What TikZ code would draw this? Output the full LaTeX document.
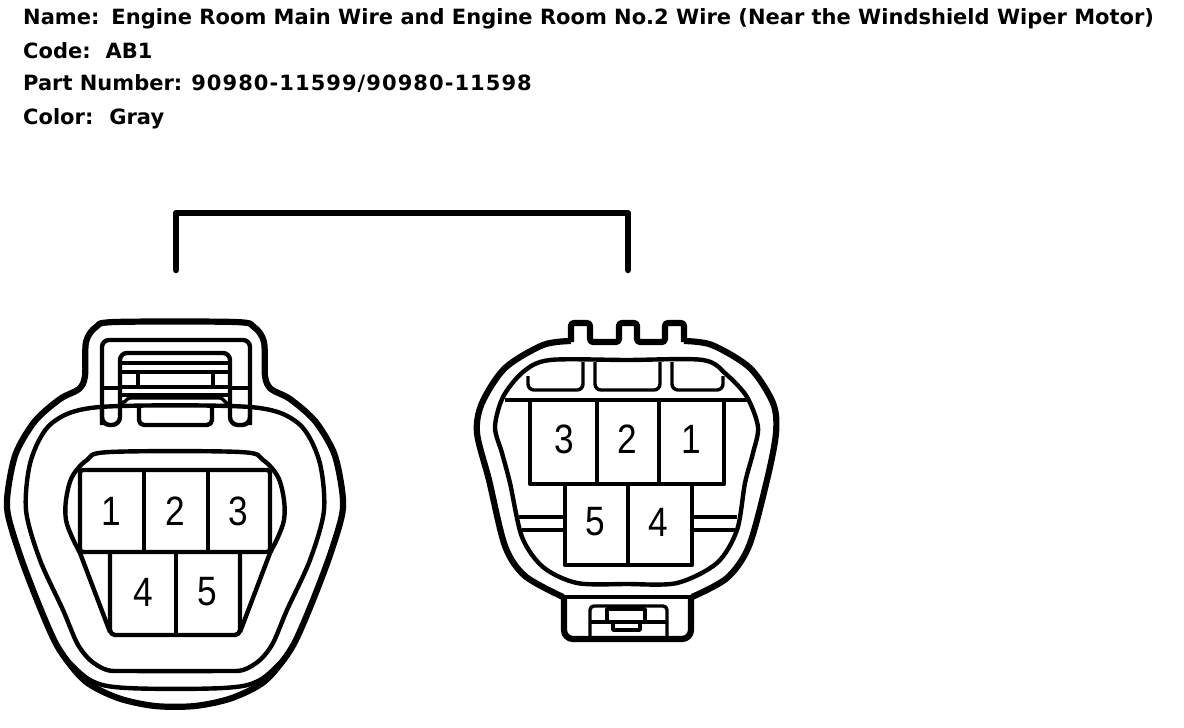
\documentclass[tikz,border=0pt]{standalone}
\usepackage{fontspec}
\setmainfont{DejaVu Sans}
\newfontfamily\digitfont{Liberation Sans}
\tikzset{
  heavy/.style={line width=6.2pt,line join=round},
  med/.style={line width=4.4pt,line join=round},
  thin/.style={line width=3.4pt,line join=round},
  caption/.style={anchor=base west,inner sep=0pt,font=\bfseries\fontsize{21}{24}\selectfont},
  pin/.style={inner sep=0pt,xscale=0.86,font=\digitfont\fontsize{41}{41}\selectfont},
}
\begin{document}
\begin{tikzpicture}[x=1pt,y=-1pt]
\useasboundingbox (0,0) rectangle (1184,728);
\fill[white] (0,0) rectangle (1184,728);
% captions
\node[caption] (t1) at (23,24) {Name:\hspace{12pt}Engine Room Main Wire and Engine Room No.2 Wire (Near the Windshield Wiper Motor)};
\node[caption] (t2) at (23,58) {Code:\hspace{15pt}AB1};
\node[caption] (t3) at (23,90) {Part Number:\hspace{9pt}{\addfontfeature{LetterSpace=5}90980-11599/90980-11598}};
\node[caption] (t4) at (23,124) {Color:\hspace{16pt}Gray};
% bracket
\coordinate (bl) at (176,270);
\coordinate (br) at (628,270);
\draw[line width=6.5pt,line cap=round,line join=round] (bl) |- (402,213) -| (br);
% ---------- left connector
\draw[heavy] plot[smooth cycle,tension=0.5] coordinates {(115,322)(96,327)(86,342)(85,376)(79,389)(60,399)(35,421)(16,453)(8,490)(8,515)(21,558)(41,610)(59,649)(85,681)(118,698)(155,706)(195,706)(232,698)(265,681)(291,649)(309,610)(329,558)(342,515)(342,490)(334,453)(315,421)(290,399)(271,389)(265,376)(264,342)(254,327)(235,322)};
\draw[med] plot[smooth,tension=0.55] coordinates {(62,654)(90,680)(127,688)(223,688)(260,680)(288,654)};
\draw[med] plot[smooth cycle,tension=0.5] coordinates {(100,407)(52,423)(31,460)(26,510)(40,560)(63,610)(77,643)(90,660)(107,670)(130,671)(220,671)(243,670)(260,660)(273,643)(287,610)(310,560)(324,510)(319,460)(298,423)(250,407)};
\draw[med] plot[smooth,tension=0.55] coordinates {(80,553)(72,537)(66,520)(66,500)(72,477)(87,460)(110,452)(240,452)(263,460)(278,477)(284,500)(284,520)(278,537)(270,553)};
\draw[med] (80,553) -- (110,632);
\draw[med] (270,553) -- (240,632);
\draw[med,rounded corners=3pt] (80,470) rectangle (270,552);
\draw[med] (144,470) -- (144,552) (208,470) -- (208,552);
\draw[med,rounded corners=5pt] (110,552) -- (110,635) -- (240,635) -- (240,552);
\draw[med] (176,552) -- (176,635);
% left latch
\draw[med,rounded corners=7pt] (102,425) -- (102,340) -- (250,340) -- (250,425);
\draw[med,rounded corners=8pt] (102,410) -- (102,425) -- (120,425) -- (120,405);
\draw[med,rounded corners=8pt] (230,405) -- (230,425) -- (250,425) -- (250,410);
\draw[med,rounded corners=7pt] (120,405) -- (120,353) -- (230,353) -- (230,405);
\draw[med] (120,363) -- (230,363) (120,372) -- (230,372) (120,387) -- (230,387) (120,395) -- (230,395);
\draw[med] (138,372) -- (138,387) (213,372) -- (213,387);
\draw[med] (102,388) -- (120,388) (230,388) -- (250,388);
\draw[med,rounded corners=5pt] (139,407) -- (139,425) -- (212,425) -- (212,407);
\draw[thin] (122,402) to[out=-40,in=180] (130,398);
\draw[thin] (130,398) -- (220,398) to[out=0,in=-140] (229,403);
\node[pin] (a1) at (111,511) {1};
\node[pin] (a2) at (175,511) {2};
\node[pin] (a3) at (238,511) {3};
\node[pin] (a4) at (143,592) {4};
\node[pin] (a5) at (207,592) {5};
% ---------- right connector
\draw[heavy] plot[smooth,tension=0.5] coordinates {(571,341)(543,345)(505,368)(482,403)(477,433)(489,480)(505,546)(525,576)(563,597)};
\draw[heavy] plot[smooth,tension=0.5] coordinates {(684,341)(712,345)(750,368)(773,403)(776,433)(767,480)(749,546)(727,578)(692,597)};
\draw[heavy,rounded corners=3pt] (571,342) -- (571,323) -- (590,323) -- (590,342) -- (619,342) -- (619,323) -- (637,323) -- (637,342) -- (665,342) -- (665,323) -- (684,323) -- (684,342);
\draw[med] (562,597) -- (693,597);
\draw[heavy,rounded corners=9pt] (564,597) -- (564,639) -- (691,639) -- (691,597);
\draw[med] plot[smooth cycle,tension=0.5] coordinates {(550,360)(523,372)(503,397)(495,427)(502,453)(510,483)(522,537)(543,567)(577,583)(627,584)(677,583)(717,563)(737,530)(745,483)(753,453)(758,427)(747,397)(727,375)(703,360)(627,360)};
\draw[thin,rounded corners=6pt] (528,376) -- (528,390) -- (583,390) -- (583,362);
\draw[thin,rounded corners=6pt] (595,362) -- (595,390) -- (660,390) -- (660,362);
\draw[thin,rounded corners=6pt] (672,362) -- (672,390) -- (723,390) -- (723,376);
\draw[med] (505,400) -- (747,400);
\draw[med] (530,400) -- (530,484) -- (724,484) -- (724,400);
\draw[med] (597,400) -- (597,484) (659,400) -- (659,484);
\draw[med] (565,484) -- (565,565) -- (692,565) -- (692,484);
\draw[med] (628,484) -- (628,565);
\draw[thin] (519,517) -- (565,517) (522,530) -- (565,530) (692,517) -- (737,517) (692,530) -- (735,530);
\draw[thin,rounded corners=4pt] (590,640) -- (590,606) -- (667,606) -- (667,640);
\draw[thin] (591,622) -- (666,622);
\draw[thin] (607,622) -- (607,609) -- (645,609) -- (645,622);
\draw[thin] (613,622) -- (613,630) -- (640,630) -- (640,622);
\node[pin] (b3) at (564,439) {3};
\node[pin] (b2) at (627,439) {2};
\node[pin] (b1) at (691,439) {1};
\node[pin] (b5) at (595,522) {5};
\node[pin] (b4) at (658,522) {4};
\end{tikzpicture}
\end{document}
